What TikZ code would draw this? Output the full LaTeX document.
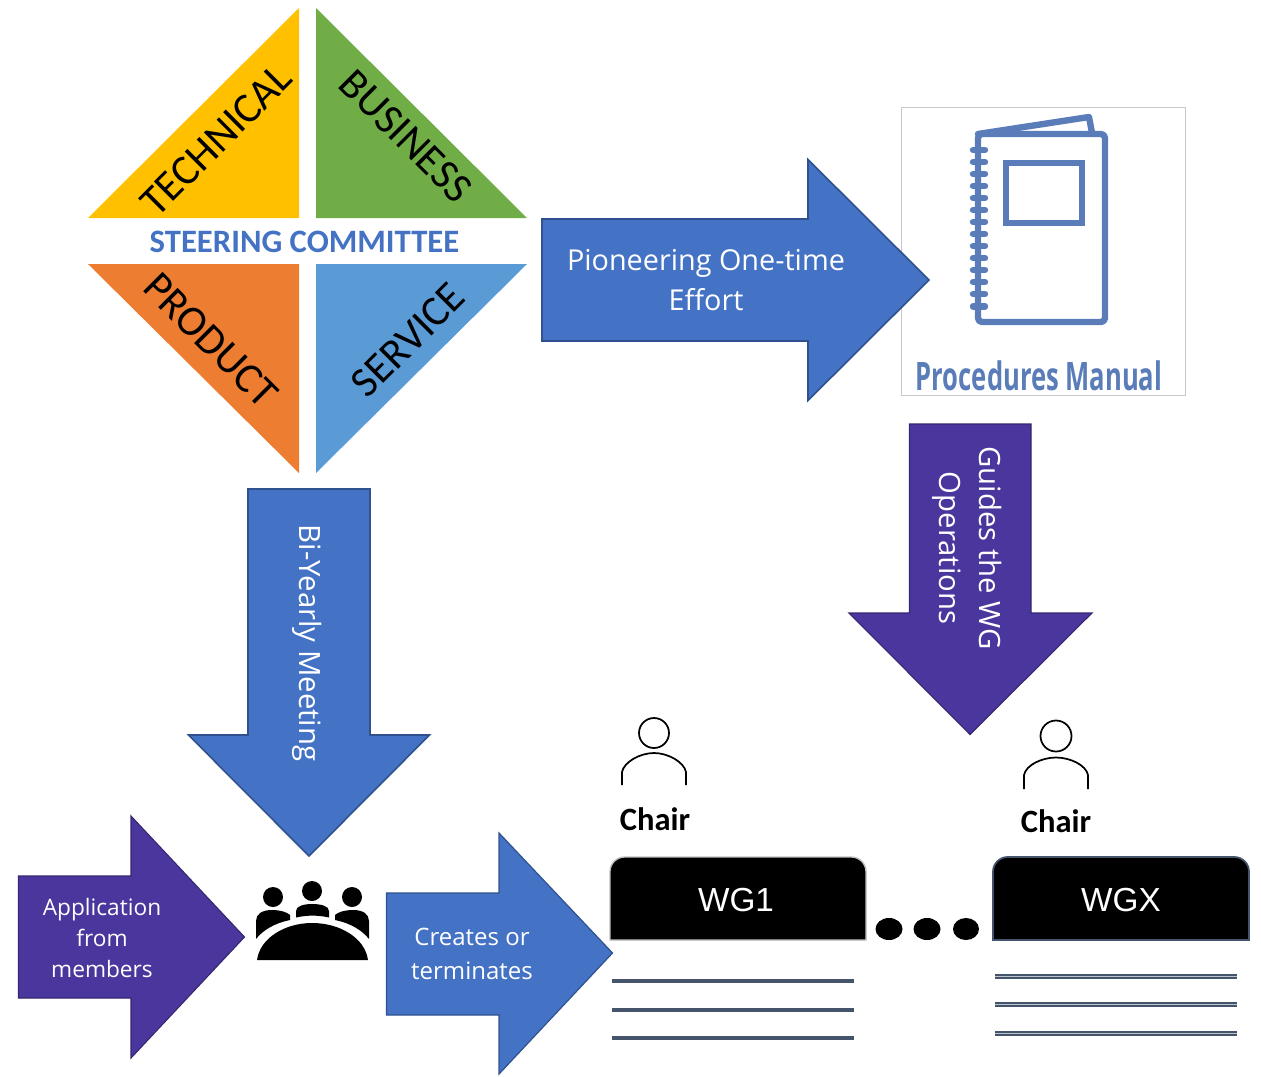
\documentclass[tikz,border=0pt]{standalone}
\usepackage{fontspec}
\setmainfont{Carlito}
\newfontfamily\segoe{Open Sans}
\newfontfamily\arialf{Liberation Sans}
\usetikzlibrary{shapes.geometric}
\definecolor{arrowblue}{HTML}{4472C4}
\definecolor{arrowedge}{HTML}{2F528F}
\definecolor{arrowpurple}{HTML}{4B369D}
\definecolor{purpleedge}{HTML}{35266F}
\definecolor{manualblue}{HTML}{5A7DB9}
\definecolor{slateline}{HTML}{44546A}
\definecolor{tyellow}{HTML}{FFC000}
\definecolor{tgreen}{HTML}{70AD47}
\definecolor{torange}{HTML}{ED7D31}
\definecolor{tblue}{HTML}{5B9BD5}
\tikzset{
  bluearrow/.style={fill=arrowblue,draw=arrowedge,line width=1.2pt,line join=miter},
  purplearrow/.style={fill=arrowpurple,draw=purpleedge,line width=0.8pt,line join=miter},
  arrowlabel/.style={text=white,align=center,inner sep=0pt,font=\segoe},
  quadlabel/.style={text=black,inner sep=0pt,font=\fontsize{32}{36}\selectfont},
  chairlabel/.style={text=black,inner sep=0pt,font=\fontsize{24.4}{28}\selectfont\bfseries},
  wglabel/.style={text=white,inner sep=0pt,font=\arialf\fontsize{25}{30}\selectfont},
  person/.style={draw=black,line width=1.3pt,fill=none},
  manualstroke/.style={draw=manualblue,line width=4.8pt,line join=round,line cap=round},
  spiral/.style={draw=manualblue,line width=4.8pt,line cap=round},
  tableline/.style={draw=slateline,line width=3pt},
  tablelinehollow/.style={draw=slateline,line width=3.2pt,postaction={draw=slateline!35!white,line width=1.1pt}}
}
\begin{document}
\begin{tikzpicture}[x=0.75pt,y=-0.75pt]
\useasboundingbox (0,0) rectangle (1261,1076);
% quadrants
\fill[tyellow] (299,8) -- (299,218) -- (88,218) -- cycle;
\fill[tgreen] (316,8) -- (316,218) -- (527,218) -- cycle;
\fill[torange] (88,264) -- (299,264) -- (299,473) -- cycle;
\fill[tblue] (316,264) -- (527,264) -- (316,473) -- cycle;
\node[quadlabel,rotate=45] (tech) at (216,140) {TECHNICAL};
\node[quadlabel,rotate=-45] (bus) at (406,136) {BUSINESS};
\node[quadlabel,rotate=-45] (prod) at (211,340) {PRODUCT};
\node[quadlabel,rotate=45] (serv) at (408,340) {SERVICE};
\node[text=arrowblue,inner sep=0pt,font=\fontsize{24.5}{28}\selectfont\bfseries] (steer) at (304.5,242) {STEERING COMMITTEE};
% procedures manual frame
\draw[black!22,line width=0.7pt,fill=white] (901.5,107.5) rectangle (1185.5,395.5);
% big arrows
\draw[bluearrow] (542,219) -- (808,219) -- (808,159.5) -- (929,280) -- (808,400.5) -- (808,341) -- (542,341) -- cycle;
\node[arrowlabel,font=\segoe\fontsize{21.6}{30}\selectfont] (pion) at (706,280) {Pioneering One-time\\Effort};
\draw[bluearrow] (248,489) -- (370,489) -- (370,735) -- (429.5,735) -- (309,856) -- (188.5,735) -- (248,735) -- cycle;
\node[arrowlabel,rotate=-90,font=\segoe\fontsize{22}{30}\selectfont] (byear) at (307,643) {Bi-Yearly Meeting};
\draw[purplearrow] (909.5,424) -- (1031,424) -- (1031,613) -- (1092,613) -- (970,734.5) -- (849,613) -- (909.5,613) -- cycle;
\node[arrowlabel,rotate=-90,font=\segoe\fontsize{22}{30.5}\selectfont] (guide) at (967,548) {Guides the WG\\Operations};
\draw[purplearrow] (18.5,876) -- (131,876) -- (131,816) -- (244.5,937) -- (131,1058) -- (131,998) -- (18.5,998) -- cycle;
\node[arrowlabel,font=\segoe\fontsize{17}{23.5}\selectfont] (appl) at (102,938) {Application\\from\\members};
\draw[bluearrow,line width=0.9pt] (386.5,893) -- (499,893) -- (499,833) -- (612.5,953) -- (499,1074) -- (499,1015) -- (386.5,1015) -- cycle;
\node[arrowlabel,font=\segoe\fontsize{18}{25.5}\selectfont] (creat) at (472,953.5) {Creates or\\terminates};
% notebook
\draw[manualstroke] (978,134) -- (1089,117) -- (1092,133);
\draw[manualstroke,rounded corners=3pt] (978,134) rectangle (1105,322);
\draw[manualstroke,line cap=butt,line join=miter] (1006,163) rectangle (1082,223);
\foreach \yy in {150,162,174,186,198,210,222,234,246,258,270,282,294,306.5}
  \draw[spiral] (973,\yy) -- (985,\yy);
\node[text=manualblue,inner sep=0pt,font=\segoe\bfseries\fontsize{28}{32}\selectfont] (manual) at (1039,376) {\scalebox{0.686}[1.05]{Procedures Manual}};
% people icon
\fill[black] (273,897) circle (10) (312,891) circle (10) (352,897) circle (10);
\fill[black] (257,960) .. controls (260,938) and (285,923) .. (312,923) .. controls (340,923) and (365,938) .. (368,960) -- cycle;
\fill[black] (256,939) -- (256,921) .. controls (256,914) and (262,910) .. (272,910) .. controls (280,910) and (287,912) .. (290,915) -- (290,920) .. controls (275,923) and (263,930) .. (256,939) -- cycle;
\fill[black] (369,939) -- (369,921) .. controls (369,914) and (363,910) .. (353,910) .. controls (345,910) and (338,912) .. (335,915) -- (335,920) .. controls (350,923) and (362,930) .. (369,939) -- cycle;
\fill[black] (296,917.5) -- (296,911) .. controls (296,906) and (304,904) .. (312,904) .. controls (321,904) and (329,906) .. (329,911) -- (329,917.5) .. controls (318,915) and (307,915) .. (296,917.5) -- cycle;
% persons
\draw[person] (654,733) circle (15);
\draw[person] (622,785) -- (622,772) .. controls (624,762) and (640,753) .. (654,753) .. controls (668,753) and (684,762) .. (686,772) -- (686,785);
\draw[person] (1056,736) circle (15.5);
\draw[person] (1024,789) -- (1024,775) .. controls (1026,765) and (1042,757.5) .. (1056,757.5) .. controls (1070,757.5) and (1086,765) .. (1088,775) -- (1088,789);
\node[chairlabel] (chair1) at (655,819) {Chair};
\node[chairlabel] (chair2) at (1056,821) {Chair};
% WG boxes
\draw[fill=black,draw=black!25,line width=1pt] (610,940) [rounded corners=11pt] -- (610,857) -- (866,857) [sharp corners] -- (866,940) -- cycle;
\node[wglabel] (wg1) at (736,900) {WG1};
\draw[fill=black,draw=slateline,line width=1.3pt] (993,940) [rounded corners=11pt] -- (993,857) -- (1249,857) [sharp corners] -- (1249,940) -- cycle;
\node[wglabel] (wgx) at (1121,900) {WGX};
% dots
\fill[black] (889,929) ellipse [x radius=13.5,y radius=11];
\fill[black] (927,929) ellipse [x radius=13.5,y radius=11];
\fill[black] (966,929) ellipse [x radius=13,y radius=11];
% lines
\foreach \yy in {981,1009.5,1038}
  \draw[tableline] (612,\yy) -- (854,\yy);
\foreach \yy in {976.5,1004.5,1033.5}
  \draw[tablelinehollow] (995,\yy) -- (1237,\yy);
\end{tikzpicture}
\end{document}
